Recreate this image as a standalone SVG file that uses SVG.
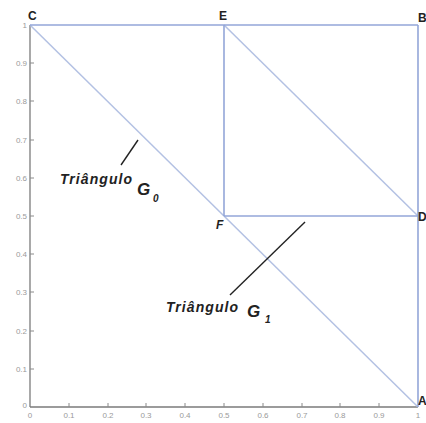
<svg xmlns="http://www.w3.org/2000/svg" width="426" height="423" viewBox="0 0 426 423">
<style>
.ax{stroke:#7a7a7a;stroke-width:1.3;fill:none}
.tk{stroke:#8a8a8a;stroke-width:1}
.sq{stroke:#93a6d8;stroke-width:1.6;fill:none}
.dg{stroke:#b3c1e3;stroke-width:1.5;fill:none}
.ld{stroke:#222;stroke-width:1.4}
.tl{font-family:"Liberation Sans",Arial,sans-serif;font-size:8px;fill:#9a9a9a}
.pt{font-family:"Liberation Sans",Arial,sans-serif;font-size:12px;font-weight:bold;fill:#222}
.an{font-family:"Liberation Sans",Arial,sans-serif;font-style:italic;font-weight:bold;fill:#222}
</style>
<rect width="426" height="423" fill="#fff"/>
<g id="axes">
<line class="ax" x1="30" y1="25" x2="30" y2="407"/>
<line class="ax" x1="30" y1="407" x2="418" y2="407"/>
<g class="tk">
<line x1="30" y1="63" x2="34" y2="63"/><line x1="30" y1="101" x2="34" y2="101"/><line x1="30" y1="140" x2="34" y2="140"/><line x1="30" y1="178" x2="34" y2="178"/><line x1="30" y1="216" x2="34" y2="216"/><line x1="30" y1="254" x2="34" y2="254"/><line x1="30" y1="292" x2="34" y2="292"/><line x1="30" y1="331" x2="34" y2="331"/><line x1="30" y1="369" x2="34" y2="369"/>
<line x1="69" y1="407" x2="69" y2="403"/><line x1="108" y1="407" x2="108" y2="403"/><line x1="146" y1="407" x2="146" y2="403"/><line x1="185" y1="407" x2="185" y2="403"/><line x1="224" y1="407" x2="224" y2="403"/><line x1="263" y1="407" x2="263" y2="403"/><line x1="302" y1="407" x2="302" y2="403"/><line x1="340" y1="407" x2="340" y2="403"/><line x1="379" y1="407" x2="379" y2="403"/>
</g>
<g class="tl" text-anchor="end">
<text x="27" y="28">1</text><text x="27" y="66">0.9</text><text x="27" y="104">0.8</text><text x="27" y="143">0.7</text><text x="27" y="181">0.6</text><text x="27" y="219">0.5</text><text x="27" y="257">0.4</text><text x="27" y="295">0.3</text><text x="27" y="334">0.2</text><text x="27" y="372">0.1</text><text x="27" y="408">0</text>
</g>
<g class="tl" text-anchor="middle">
<text x="30" y="418">0</text><text x="69" y="418">0.1</text><text x="108" y="418">0.2</text><text x="146" y="418">0.3</text><text x="185" y="418">0.4</text><text x="224" y="418">0.5</text><text x="263" y="418">0.6</text><text x="302" y="418">0.7</text><text x="340" y="418">0.8</text><text x="379" y="418">0.9</text><text x="418" y="418">1</text>
</g>
</g>
<g id="connectors">
<line class="dg" x1="30" y1="25" x2="418" y2="407"/>
<line class="dg" x1="224" y1="25" x2="418" y2="216"/>
<line class="sq" x1="30" y1="25" x2="418" y2="25"/>
<line class="sq" x1="418" y1="25" x2="418" y2="407"/>
<line class="sq" x1="224" y1="25" x2="224" y2="216"/>
<line class="sq" x1="224" y1="216" x2="418" y2="216"/>
<line class="ld" x1="138" y1="140" x2="121" y2="165"/>
<line class="ld" x1="305" y1="222" x2="230" y2="295"/>
</g>
<g id="C"><text class="pt" x="28" y="20">C</text></g>
<g id="E"><text class="pt" x="219" y="20">E</text></g>
<g id="B"><text class="pt" x="418" y="22" font-size="10">B</text></g>
<g id="D"><text class="pt" x="418" y="221" font-size="10">D</text></g>
<g id="A"><text class="pt" x="418" y="405" font-size="10">A</text></g>
<g id="F"><text class="an" x="216" y="229" font-size="12">F</text></g>
<g id="G0">
<text class="an" x="60" y="184" font-size="14" textLength="72">Triângulo</text>
<text class="an" x="137" y="195" font-size="17">G</text>
<text class="an" x="153" y="202" font-size="10">0</text>
</g>
<g id="G1">
<text class="an" x="166" y="312" font-size="14" textLength="72">Triângulo</text>
<text class="an" x="247" y="317" font-size="17">G</text>
<text class="an" x="265" y="323" font-size="10">1</text>
</g>
</svg>
